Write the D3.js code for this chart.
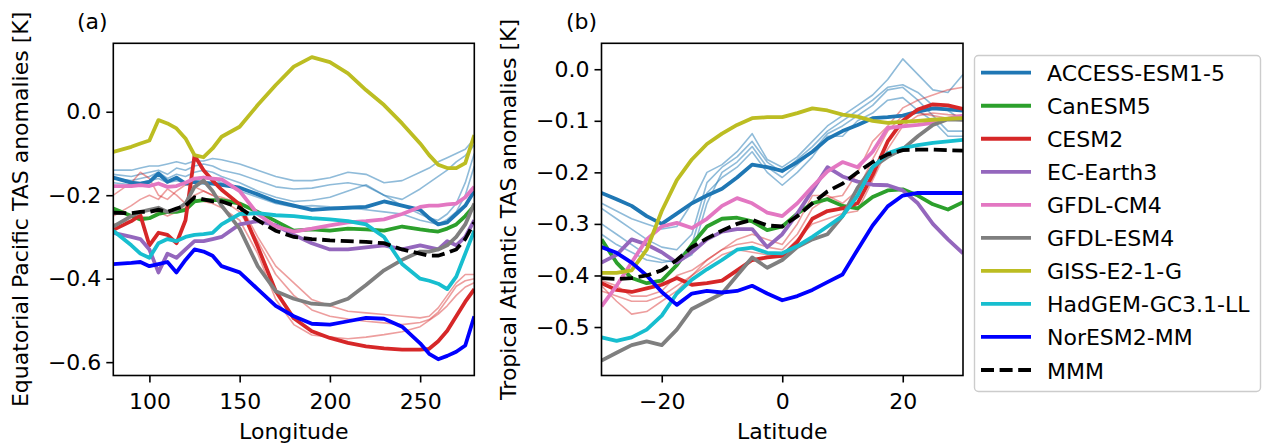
<!DOCTYPE html>
<html>
<head>
<meta charset="utf-8">
<script src="https://cdn.jsdelivr.net/npm/d3@7"></script>
<style>
  body { margin: 0; background: #fff; }
  svg { display: block; font-family: "DejaVu Sans", sans-serif; }
</style>
</head>
<body>
<div id="chart"></div>
<script>
const width = 1262;
const height = 444;

const models = ["ACCESS-ESM1-5", "CanESM5", "CESM2", "EC-Earth3", "GFDL-CM4",
    "GFDL-ESM4", "GISS-E2-1-G", "HadGEM-GC3.1-LL", "NorESM2-MM"];
const colors = ["#1f77b4", "#2ca02c", "#d62728", "#9467bd", "#e377c2",
    "#7f7f7f", "#bcbd22", "#17becf", "#0000ff"];

// (a) equatorial Pacific, by longitude
const lonA = [80, 90, 95, 100, 105, 110, 115, 120, 125, 130, 135, 140, 150, 160, 170, 180, 190, 200, 210, 220, 230, 240, 250, 255, 260, 265, 270, 275, 280];
const accessA = [-0.158, -0.17, -0.172, -0.168, -0.148, -0.168, -0.158, -0.172, -0.168, -0.17, -0.172, -0.175, -0.182, -0.198, -0.215, -0.225, -0.235, -0.232, -0.23, -0.228, -0.215, -0.225, -0.235, -0.255, -0.27, -0.265, -0.245, -0.225, -0.19];
const canA = [-0.232, -0.25, -0.258, -0.255, -0.245, -0.24, -0.24, -0.235, -0.215, -0.212, -0.212, -0.212, -0.22, -0.24, -0.262, -0.285, -0.282, -0.285, -0.28, -0.282, -0.285, -0.275, -0.282, -0.285, -0.287, -0.28, -0.27, -0.25, -0.225];
const cesmA = [-0.283, -0.262, -0.248, -0.32, -0.29, -0.295, -0.315, -0.26, -0.105, -0.14, -0.165, -0.187, -0.222, -0.323, -0.43, -0.495, -0.526, -0.542, -0.554, -0.562, -0.567, -0.57, -0.57, -0.568, -0.55, -0.525, -0.49, -0.455, -0.425];
const ecA = [-0.29, -0.3, -0.305, -0.33, -0.385, -0.34, -0.35, -0.33, -0.31, -0.31, -0.305, -0.3, -0.27, -0.262, -0.272, -0.295, -0.315, -0.33, -0.33, -0.325, -0.32, -0.33, -0.32, -0.325, -0.33, -0.31, -0.32, -0.3, -0.26];
const cm4A = [-0.178, -0.178, -0.176, -0.178, -0.172, -0.18, -0.178, -0.17, -0.16, -0.158, -0.16, -0.162, -0.19, -0.245, -0.275, -0.287, -0.28, -0.272, -0.265, -0.262, -0.258, -0.245, -0.228, -0.225, -0.225, -0.222, -0.22, -0.205, -0.18];
const esm4A = [-0.275, -0.25, -0.24, -0.235, -0.23, -0.24, -0.235, -0.22, -0.18, -0.165, -0.19, -0.225, -0.28, -0.37, -0.43, -0.448, -0.46, -0.463, -0.448, -0.415, -0.38, -0.355, -0.335, -0.335, -0.33, -0.32, -0.3, -0.27, -0.22];
const gissA = [-0.096, -0.084, -0.076, -0.069, -0.02, -0.028, -0.04, -0.064, -0.104, -0.109, -0.088, -0.06, -0.036, 0.016, 0.064, 0.108, 0.131, 0.119, 0.092, 0.052, 0.016, -0.028, -0.076, -0.104, -0.127, -0.135, -0.135, -0.123, -0.056];
const hadA = [-0.285, -0.32, -0.34, -0.35, -0.315, -0.305, -0.31, -0.3, -0.295, -0.293, -0.29, -0.27, -0.245, -0.243, -0.248, -0.25, -0.255, -0.258, -0.262, -0.27, -0.3, -0.365, -0.4, -0.405, -0.412, -0.425, -0.395, -0.34, -0.285];
const norA = [-0.365, -0.362, -0.36, -0.37, -0.365, -0.36, -0.385, -0.355, -0.33, -0.335, -0.345, -0.37, -0.385, -0.425, -0.465, -0.49, -0.508, -0.51, -0.502, -0.494, -0.496, -0.515, -0.555, -0.58, -0.593, -0.585, -0.575, -0.56, -0.49];
const mmmA = [-0.242, -0.243, -0.24, -0.24, -0.235, -0.24, -0.232, -0.225, -0.205, -0.21, -0.215, -0.215, -0.23, -0.26, -0.285, -0.3, -0.305, -0.308, -0.31, -0.312, -0.315, -0.33, -0.34, -0.345, -0.345, -0.338, -0.33, -0.305, -0.265];
const accessMembersA = [
    [-0.14, -0.14, -0.135, -0.13, -0.13, -0.125, -0.12, -0.125, -0.118, -0.118, -0.112, -0.115, -0.125, -0.14, -0.155, -0.165, -0.165, -0.158, -0.145, -0.15, -0.17, -0.165, -0.145, -0.135, -0.12, -0.11, -0.1, -0.09, -0.065],
    [-0.15, -0.155, -0.15, -0.145, -0.14, -0.15, -0.135, -0.14, -0.13, -0.125, -0.13, -0.14, -0.15, -0.165, -0.18, -0.185, -0.183, -0.175, -0.17, -0.178, -0.2, -0.21, -0.185, -0.17, -0.155, -0.14, -0.12, -0.105, -0.08],
    [-0.16, -0.165, -0.16, -0.155, -0.145, -0.16, -0.15, -0.155, -0.145, -0.14, -0.145, -0.155, -0.17, -0.19, -0.205, -0.215, -0.212, -0.205, -0.19, -0.175, -0.2, -0.225, -0.245, -0.255, -0.26, -0.245, -0.22, -0.17, -0.1],
    [-0.17, -0.175, -0.17, -0.165, -0.16, -0.17, -0.165, -0.17, -0.16, -0.155, -0.16, -0.17, -0.19, -0.205, -0.22, -0.228, -0.225, -0.228, -0.23, -0.235, -0.24, -0.245, -0.26, -0.265, -0.27, -0.258, -0.24, -0.2, -0.13]
];
const cesmMembersA = [
    [-0.2, -0.17, -0.145, -0.16, -0.2, -0.21, -0.19, -0.175, -0.18, -0.19, -0.2, -0.205, -0.22, -0.3, -0.37, -0.41, -0.45, -0.465, -0.478, -0.482, -0.486, -0.49, -0.494, -0.49, -0.47, -0.44, -0.41, -0.39, -0.39],
    [-0.25, -0.225, -0.21, -0.2, -0.21, -0.185, -0.2, -0.22, -0.2, -0.19, -0.2, -0.21, -0.24, -0.31, -0.39, -0.44, -0.475, -0.49, -0.497, -0.502, -0.506, -0.51, -0.505, -0.498, -0.48, -0.45, -0.418, -0.405, -0.4],
    [-0.27, -0.26, -0.25, -0.255, -0.24, -0.25, -0.24, -0.23, -0.21, -0.215, -0.22, -0.23, -0.26, -0.34, -0.45, -0.51, -0.535, -0.54, -0.544, -0.54, -0.534, -0.527, -0.515, -0.5, -0.485, -0.465, -0.44, -0.42, -0.41]
];

// (b) tropical Atlantic, by latitude
const latB = [-30, -27.5, -25, -22.5, -20, -17.5, -15, -12.5, -10, -7.5, -5, -2.5, 0, 2.5, 5, 7.5, 10, 12.5, 15, 17.5, 20, 22.5, 25, 27.5, 30];
const accessB = [-0.24, -0.252, -0.265, -0.285, -0.3, -0.28, -0.26, -0.245, -0.232, -0.21, -0.185, -0.19, -0.197, -0.18, -0.16, -0.135, -0.12, -0.108, -0.095, -0.093, -0.09, -0.082, -0.076, -0.078, -0.08];
const canB = [-0.33, -0.375, -0.405, -0.415, -0.41, -0.38, -0.34, -0.305, -0.29, -0.288, -0.295, -0.312, -0.305, -0.28, -0.26, -0.252, -0.265, -0.27, -0.248, -0.235, -0.233, -0.245, -0.262, -0.272, -0.258];
const cesmB = [-0.415, -0.428, -0.432, -0.425, -0.418, -0.405, -0.418, -0.415, -0.41, -0.39, -0.37, -0.365, -0.362, -0.335, -0.29, -0.275, -0.27, -0.26, -0.205, -0.14, -0.1, -0.078, -0.068, -0.07, -0.077];
const ecB = [-0.375, -0.36, -0.33, -0.34, -0.355, -0.375, -0.355, -0.33, -0.315, -0.31, -0.31, -0.345, -0.32, -0.28, -0.235, -0.19, -0.208, -0.218, -0.224, -0.225, -0.235, -0.26, -0.3, -0.33, -0.357];
const cm4B = [-0.46, -0.42, -0.375, -0.33, -0.305, -0.298, -0.308, -0.29, -0.265, -0.25, -0.26, -0.278, -0.285, -0.26, -0.228, -0.198, -0.18, -0.19, -0.16, -0.114, -0.111, -0.108, -0.104, -0.096, -0.09];
const esm4B = [-0.565, -0.55, -0.535, -0.528, -0.535, -0.505, -0.465, -0.45, -0.435, -0.4, -0.365, -0.385, -0.37, -0.345, -0.33, -0.32, -0.285, -0.23, -0.19, -0.17, -0.155, -0.13, -0.108, -0.097, -0.098];
const gissB = [-0.395, -0.395, -0.39, -0.35, -0.275, -0.215, -0.175, -0.145, -0.125, -0.108, -0.095, -0.093, -0.093, -0.085, -0.076, -0.08, -0.088, -0.092, -0.1, -0.104, -0.102, -0.1, -0.098, -0.096, -0.095];
const hadB = [-0.52, -0.527, -0.52, -0.505, -0.478, -0.435, -0.408, -0.388, -0.37, -0.35, -0.346, -0.356, -0.357, -0.343, -0.325, -0.305, -0.285, -0.245, -0.19, -0.163, -0.153, -0.147, -0.143, -0.14, -0.137];
const norB = [-0.345, -0.356, -0.375, -0.4, -0.432, -0.457, -0.435, -0.43, -0.433, -0.43, -0.42, -0.435, -0.448, -0.44, -0.428, -0.413, -0.398, -0.35, -0.303, -0.266, -0.245, -0.24, -0.24, -0.24, -0.24];
const mmmB = [-0.405, -0.407, -0.405, -0.4, -0.39, -0.37, -0.345, -0.328, -0.313, -0.3, -0.292, -0.303, -0.305, -0.285, -0.26, -0.237, -0.222, -0.2, -0.18, -0.165, -0.157, -0.156, -0.156, -0.157, -0.158];
const accessMembersB = [
    [-0.26, -0.275, -0.29, -0.3, -0.31, -0.305, -0.26, -0.2, -0.185, -0.16, -0.125, -0.175, -0.19, -0.17, -0.14, -0.11, -0.09, -0.07, -0.05, -0.02, 0.02, -0.01, -0.04, -0.045, -0.01],
    [-0.27, -0.29, -0.31, -0.33, -0.345, -0.35, -0.32, -0.22, -0.19, -0.17, -0.14, -0.18, -0.2, -0.175, -0.15, -0.12, -0.1, -0.08, -0.06, -0.035, -0.03, -0.045, -0.07, -0.08, -0.1],
    [-0.3, -0.32, -0.34, -0.36, -0.37, -0.375, -0.36, -0.26, -0.2, -0.18, -0.15, -0.19, -0.21, -0.185, -0.16, -0.125, -0.11, -0.09, -0.07, -0.04, -0.035, -0.06, -0.09, -0.12, -0.12],
    [-0.32, -0.34, -0.355, -0.37, -0.375, -0.37, -0.34, -0.24, -0.21, -0.19, -0.16, -0.2, -0.225, -0.2, -0.17, -0.13, -0.13, -0.1, -0.085, -0.06, -0.055, -0.08, -0.1, -0.13, -0.13]
];
const cesmMembersB = [
    [-0.42, -0.45, -0.475, -0.47, -0.45, -0.43, -0.4, -0.37, -0.35, -0.34, -0.335, -0.345, -0.35, -0.32, -0.27, -0.25, -0.245, -0.2, -0.14, -0.11, -0.075, -0.06, -0.05, -0.04, -0.035],
    [-0.43, -0.44, -0.45, -0.45, -0.44, -0.42, -0.4, -0.38, -0.36, -0.35, -0.355, -0.36, -0.36, -0.33, -0.3, -0.29, -0.28, -0.275, -0.215, -0.155, -0.11, -0.09, -0.085, -0.088, -0.09],
    [-0.41, -0.42, -0.44, -0.44, -0.43, -0.4, -0.39, -0.37, -0.35, -0.33, -0.32, -0.33, -0.34, -0.3, -0.245, -0.245, -0.26, -0.235, -0.175, -0.12, -0.09, -0.085, -0.09, -0.095, -0.1]
];

const ticksA = [100, 150, 200, 250];
const yTicksA = [-0.6, -0.4, -0.2, 0.0];
const ticksB = [-20, 0, 20];
const yTicksB = [-0.5, -0.4, -0.3, -0.2, -0.1, 0.0];

const panels = [
    {
        left: 113.3, right: 474.3, xDomain: [80, 280], yDomain: [-0.632, 0.164],
        xs: lonA, series: [accessA, canA, cesmA, ecA, cm4A, esm4A, gissA, hadA, norA], mmm: mmmA,
        accessMembers: accessMembersA, cesmMembers: cesmMembersA,
        xTicks: ticksA, yTicks: yTicksA,
        xLabel: "Longitude", yLabel: "Equatorial Pacific TAS anomalies [K]",
        yLabelX: 28, tag: "(a)", tagX: 77
    },
    {
        left: 601.5, right: 963, xDomain: [-30, 30], yDomain: [-0.594, 0.0503],
        xs: latB, series: [accessB, canB, cesmB, ecB, cm4B, esm4B, gissB, hadB, norB], mmm: mmmB,
        accessMembers: accessMembersB, cesmMembers: cesmMembersB,
        xTicks: ticksB, yTicks: yTicksB,
        xLabel: "Latitude", yLabel: "Tropical Atlantic TAS anomalies [K]",
        yLabelX: 516, tag: "(b)", tagX: 566
    }
];

const plotTop = 43.3;
const plotBottom = 375.5;
const fontSize = 22;
const thick = 3.8;

const svg = d3.select("#chart").append("svg")
    .attr("width", width)
    .attr("height", height);

panels.forEach((p, pi) => {
    const x = d3.scaleLinear().domain(p.xDomain).range([p.left, p.right]);
    const y = d3.scaleLinear().domain(p.yDomain).range([plotBottom, plotTop]);

    const clipId = "clip" + pi;
    svg.append("clipPath").attr("id", clipId)
        .append("rect")
        .attr("x", p.left).attr("y", plotTop)
        .attr("width", p.right - p.left).attr("height", plotBottom - plotTop);

    const line = d3.line()
        .x((d, i) => x(p.xs[i]))
        .y(d => y(d));

    const g = svg.append("g").attr("clip-path", `url(#${clipId})`);

    // ensemble members, thin and faded
    p.accessMembers.forEach(m => {
        g.append("path").attr("d", line(m))
            .attr("fill", "none").attr("stroke", colors[0])
            .attr("stroke-opacity", 0.5).attr("stroke-width", 1.6)
            .attr("stroke-linejoin", "round");
    });
    p.cesmMembers.forEach(m => {
        g.append("path").attr("d", line(m))
            .attr("fill", "none").attr("stroke", colors[2])
            .attr("stroke-opacity", 0.45).attr("stroke-width", 1.6)
            .attr("stroke-linejoin", "round");
    });

    p.series.forEach((s, i) => {
        g.append("path").attr("d", line(s))
            .attr("fill", "none").attr("stroke", colors[i])
            .attr("stroke-width", thick)
            .attr("stroke-linejoin", "round");
    });

    g.append("path").attr("d", line(p.mmm))
        .attr("fill", "none").attr("stroke", "#000")
        .attr("stroke-width", thick)
        .attr("stroke-dasharray", "13,5.6");

    // axes
    const xAxis = d3.axisBottom(x).tickValues(p.xTicks).tickFormat(d3.format("d"))
        .tickSize(7).tickSizeOuter(0).tickPadding(11);
    const yAxis = d3.axisLeft(y).tickValues(p.yTicks).tickFormat(d3.format(".1f"))
        .tickSize(7).tickSizeOuter(0).tickPadding(5);

    const gx = svg.append("g").attr("transform", `translate(0,${plotBottom})`).call(xAxis);
    const gy = svg.append("g").attr("transform", `translate(${p.left},0)`).call(yAxis);
    [gx, gy].forEach(ax => {
        ax.select(".domain").remove();
        ax.selectAll(".tick line").attr("stroke", "#000").attr("stroke-width", 1.6);
        ax.selectAll(".tick text")
            .attr("fill", "#000")
            .style("font-size", fontSize + "px")
            .style("font-family", "DejaVu Sans");
    });

    svg.append("rect")
        .attr("x", p.left).attr("y", plotTop)
        .attr("width", p.right - p.left).attr("height", plotBottom - plotTop)
        .attr("fill", "none").attr("stroke", "#000").attr("stroke-width", 1.6);

    svg.append("text")
        .attr("x", (p.left + p.right) / 2).attr("y", 439)
        .attr("text-anchor", "middle")
        .style("font-size", fontSize + "px")
        .text(p.xLabel);

    svg.append("text")
        .attr("transform", `translate(${p.yLabelX},${(plotTop + plotBottom) / 2}) rotate(-90)`)
        .attr("text-anchor", "middle")
        .style("font-size", fontSize + "px")
        .text(p.yLabel);

    svg.append("text")
        .attr("x", p.tagX).attr("y", 29)
        .style("font-size", fontSize + "px")
        .text(p.tag);
});

// legend
const legend = svg.append("g");
legend.append("rect")
    .attr("x", 974.5).attr("y", 55.5)
    .attr("width", 286).attr("height", 336)
    .attr("rx", 4)
    .attr("fill", "#fff").attr("fill-opacity", 0.8)
    .attr("stroke", "#cccccc").attr("stroke-width", 1.4);

const legendItems = models.map((m, i) => ({ name: m, color: colors[i], dash: null }))
    .concat([{ name: "MMM", color: "#000", dash: "13,5.6" }]);

const legendY = d3.scaleLinear().domain([0, legendItems.length - 1]).range([72.7, 370]);

legendItems.forEach((d, i) => {
    legend.append("line")
        .attr("x1", 981).attr("x2", 1031)
        .attr("y1", legendY(i)).attr("y2", legendY(i))
        .attr("stroke", d.color).attr("stroke-width", thick)
        .attr("stroke-dasharray", d.dash);
    legend.append("text")
        .attr("x", 1047).attr("y", legendY(i) + 8.5)
        .style("font-size", fontSize + "px")
        .text(d.name);
});
</script>
</body>
</html>
